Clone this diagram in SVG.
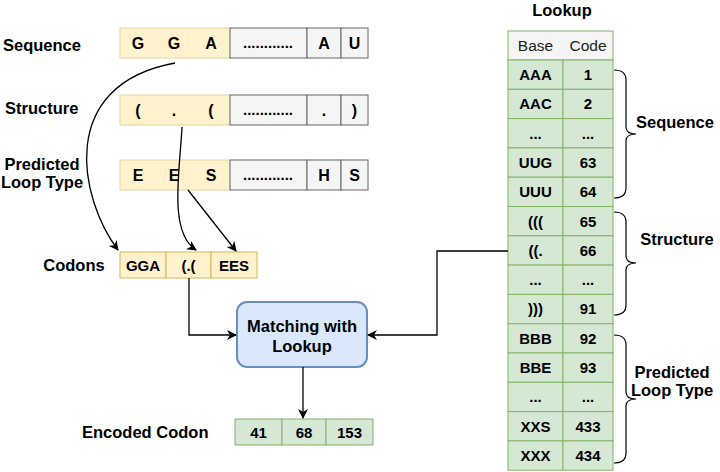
<svg xmlns="http://www.w3.org/2000/svg" width="720" height="472" viewBox="0 0 720 472">
<defs>
<style>
text{font-family:"Liberation Sans",Arial,sans-serif;font-weight:bold;fill:#000}
.lbl{font-size:16.5px}
.cell{font-size:15px;text-anchor:middle}
.big{font-size:16px}
.hdr{font-size:15.5px;text-anchor:middle;font-weight:normal;fill:#222}
.yel{fill:#fff2cc;stroke:#e3d3a0;stroke-width:1}
.yel2{fill:#fff2cc;stroke:#d6b656;stroke-width:1}
.gry{fill:#f5f5f5;stroke:#666;stroke-width:1}
.grn{fill:#d5e8d4;stroke:#82b366;stroke-width:1}
.ln{fill:none;stroke:#000;stroke-width:1.3}
.br{fill:none;stroke:#000;stroke-width:1.2}
</style>
<marker id="ah" viewBox="0 0 10 10" refX="9" refY="5" markerWidth="10" markerHeight="10" markerUnits="userSpaceOnUse" orient="auto">
<path d="M0,0 L10,5 L0,10 L3,5 Z" fill="#000"/>
</marker>
</defs>
<rect width="720" height="472" fill="#fff"/>

<g id="labels-left">
<text class="lbl" x="3" y="51">Sequence</text>
<text class="lbl" x="5" y="114">Structure</text>
<text class="lbl" x="42" y="170" text-anchor="middle">Predicted</text>
<text class="lbl" x="42" y="188" text-anchor="middle">Loop Type</text>
<text class="lbl" x="74" y="271" text-anchor="middle">Codons</text>
<text class="lbl" x="82" y="438">Encoded Codon</text>
</g>

<g id="sequence-row">
<rect class="yel" x="120" y="28" width="110" height="30"/>
<rect class="gry" x="230" y="28" width="77" height="30"/>
<rect class="gry" x="307" y="28" width="34" height="30"/>
<rect class="gry" x="341" y="28" width="27" height="30"/>
<text class="cell big" x="138" y="49">G</text>
<text class="cell big" x="174" y="49">G</text>
<text class="cell big" x="211" y="49">A</text>
<text class="cell" x="268" y="48">............</text>
<text class="cell big" x="324" y="49">A</text>
<text class="cell big" x="354.5" y="49">U</text>
</g>

<g id="structure-row">
<rect class="yel" x="120" y="95" width="110" height="30"/>
<rect class="gry" x="230" y="95" width="77" height="30"/>
<rect class="gry" x="307" y="95" width="34" height="30"/>
<rect class="gry" x="341" y="95" width="27" height="30"/>
<text class="cell big" x="138" y="116">(</text>
<text class="cell big" x="174" y="116">.</text>
<text class="cell big" x="211" y="116">(</text>
<text class="cell" x="268" y="115">............</text>
<text class="cell big" x="324" y="116">.</text>
<text class="cell big" x="354.5" y="116">)</text>
</g>

<g id="looptype-row">
<rect class="yel" x="120" y="160" width="110" height="30"/>
<rect class="gry" x="230" y="160" width="77" height="30"/>
<rect class="gry" x="307" y="160" width="34" height="30"/>
<rect class="gry" x="341" y="160" width="27" height="30"/>
<text class="cell big" x="138" y="181">E</text>
<text class="cell big" x="174" y="181">E</text>
<text class="cell big" x="211" y="181">S</text>
<text class="cell" x="268" y="180">............</text>
<text class="cell big" x="324" y="181">H</text>
<text class="cell big" x="354.5" y="181">S</text>
</g>

<g id="codons">
<rect class="yel2" x="120" y="252" width="46" height="26"/>
<rect class="yel2" x="166" y="252" width="45" height="26"/>
<rect class="yel2" x="211" y="252" width="46" height="26"/>
<text class="cell" x="143" y="270.5">GGA</text>
<text class="cell" x="188.5" y="270.5">(.(</text>
<text class="cell" x="234" y="270.5">EES</text>
</g>

<g id="matching">
<rect x="237" y="302" width="130" height="65" rx="10" ry="10" fill="#dae8fc" stroke="#6c8ebf" stroke-width="2"/>
<text class="lbl" x="302" y="332" text-anchor="middle">Matching with</text>
<text class="lbl" x="302" y="352" text-anchor="middle">Lookup</text>
</g>

<g id="encoded">
<rect class="grn" x="235" y="419" width="47" height="26"/>
<rect class="grn" x="282" y="419" width="44" height="26"/>
<rect class="grn" x="326" y="419" width="47" height="26"/>
<text class="cell" x="258.5" y="437.5">41</text>
<text class="cell" x="304" y="437.5">68</text>
<text class="cell" x="349.5" y="437.5">153</text>
</g>

<g id="lookup-table">
<text class="lbl" x="562" y="16" text-anchor="middle">Lookup</text>
<rect x="508" y="31" width="105" height="29" fill="#f5f5f5" stroke="#82b366"/>
<text class="hdr" x="535.5" y="51">Base</text>
<text class="hdr" x="588" y="51">Code</text>
<rect class="grn" x="508" y="60" width="55" height="29.3"/><rect class="grn" x="563" y="60" width="50" height="29.3"/>
<rect class="grn" x="508" y="89.3" width="55" height="29.3"/><rect class="grn" x="563" y="89.3" width="50" height="29.3"/>
<rect class="grn" x="508" y="118.6" width="55" height="29.3"/><rect class="grn" x="563" y="118.6" width="50" height="29.3"/>
<rect class="grn" x="508" y="147.9" width="55" height="29.3"/><rect class="grn" x="563" y="147.9" width="50" height="29.3"/>
<rect class="grn" x="508" y="177.2" width="55" height="29.3"/><rect class="grn" x="563" y="177.2" width="50" height="29.3"/>
<rect class="grn" x="508" y="206.5" width="55" height="29.3"/><rect class="grn" x="563" y="206.5" width="50" height="29.3"/>
<rect class="grn" x="508" y="235.8" width="55" height="29.3"/><rect class="grn" x="563" y="235.8" width="50" height="29.3"/>
<rect class="grn" x="508" y="265.1" width="55" height="29.3"/><rect class="grn" x="563" y="265.1" width="50" height="29.3"/>
<rect class="grn" x="508" y="294.4" width="55" height="29.3"/><rect class="grn" x="563" y="294.4" width="50" height="29.3"/>
<rect class="grn" x="508" y="323.7" width="55" height="29.3"/><rect class="grn" x="563" y="323.7" width="50" height="29.3"/>
<rect class="grn" x="508" y="353" width="55" height="29.3"/><rect class="grn" x="563" y="353" width="50" height="29.3"/>
<rect class="grn" x="508" y="382.3" width="55" height="29.3"/><rect class="grn" x="563" y="382.3" width="50" height="29.3"/>
<rect class="grn" x="508" y="411.6" width="55" height="29.3"/><rect class="grn" x="563" y="411.6" width="50" height="29.3"/>
<rect class="grn" x="508" y="440.9" width="55" height="29.3"/><rect class="grn" x="563" y="440.9" width="50" height="29.3"/>
<text class="cell" x="535.5" y="80">AAA</text><text class="cell" x="588" y="80">1</text>
<text class="cell" x="535.5" y="109.3">AAC</text><text class="cell" x="588" y="109.3">2</text>
<text class="cell" x="535.5" y="138.6">...</text><text class="cell" x="588" y="138.6">...</text>
<text class="cell" x="535.5" y="167.9">UUG</text><text class="cell" x="588" y="167.9">63</text>
<text class="cell" x="535.5" y="197.2">UUU</text><text class="cell" x="588" y="197.2">64</text>
<text class="cell" x="535.5" y="226.5">(((</text><text class="cell" x="588" y="226.5">65</text>
<text class="cell" x="535.5" y="255.8">((.</text><text class="cell" x="588" y="255.8">66</text>
<text class="cell" x="535.5" y="285.1">...</text><text class="cell" x="588" y="285.1">...</text>
<text class="cell" x="535.5" y="314.4">)))</text><text class="cell" x="588" y="314.4">91</text>
<text class="cell" x="535.5" y="343.7">BBB</text><text class="cell" x="588" y="343.7">92</text>
<text class="cell" x="535.5" y="373">BBE</text><text class="cell" x="588" y="373">93</text>
<text class="cell" x="535.5" y="402.3">...</text><text class="cell" x="588" y="402.3">...</text>
<text class="cell" x="535.5" y="431.6">XXS</text><text class="cell" x="588" y="431.6">433</text>
<text class="cell" x="535.5" y="460.9">XXX</text><text class="cell" x="588" y="460.9">434</text>
</g>

<g id="brace-sequence">
<path class="br" d="M614,70 Q626,70 626,80 L626,127 Q626,134 636,134 Q626,134 626,141 L626,188 Q626,198 614,198"/>
<text class="lbl" x="675" y="128" text-anchor="middle">Sequence</text>
</g>
<g id="brace-structure">
<path class="br" d="M614,212 Q626,212 626,222 L626,256 Q626,263 636,263 Q626,263 626,270 L626,305 Q626,315 614,315"/>
<text class="lbl" x="677" y="245" text-anchor="middle">Structure</text>
</g>
<g id="brace-looptype">
<path class="br" d="M614,335 Q626,335 626,345 L626,392 Q626,399 636,399 Q626,399 626,406 L626,453 Q626,463 614,463"/>
<text class="lbl" x="672" y="378" text-anchor="middle">Predicted</text>
<text class="lbl" x="672" y="396" text-anchor="middle">Loop Type</text>
</g>

<g id="connectors">
<path class="ln" d="M175,63 C55,85 80,200 118,250" marker-end="url(#ah)"/>
<path class="ln" d="M182,127 C180,170 168,232 196,250" marker-end="url(#ah)"/>
<path class="ln" d="M188,190 L236,251" marker-end="url(#ah)"/>
<path class="ln" d="M189,278 L189,335 L236,335" marker-end="url(#ah)"/>
<path class="ln" d="M508,251 L437,251 L437,335 L368,335" marker-end="url(#ah)"/>
<path class="ln" d="M303,367 L303,418" marker-end="url(#ah)"/>
</g>
</svg>
